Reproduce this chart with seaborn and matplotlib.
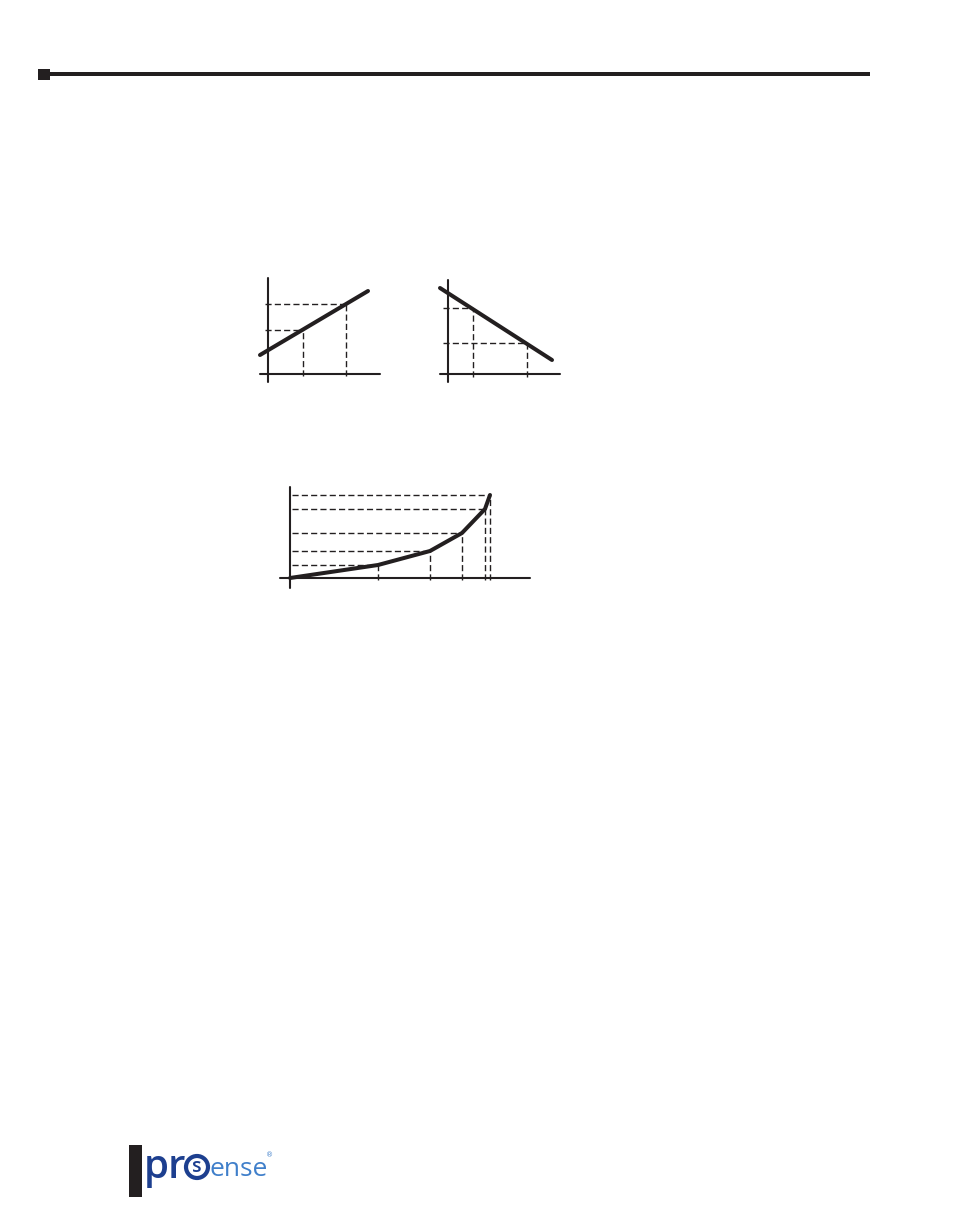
import matplotlib
matplotlib.use("Agg")
import matplotlib.pyplot as plt
import seaborn as sns
import pandas as pd
from matplotlib.patches import Rectangle, Circle

sns.set_theme(style="white")
plt.rcParams['font.family'] = ['Open Sans', 'DejaVu Sans']

# ---- data (arbitrary units; origin at axis crossing)
lin_up_x = [-8, 100]
lin_up_y = [19, 83]
lin_up_guides_x = [35, 78]
lin_up_guides_y = [44, 70]

lin_dn_x = [-8, 104]
lin_dn_y = [86, 14]
lin_dn_guides_x = [25, 79]
lin_dn_guides_y = [66, 31]

curve_x = [0, 88, 140, 172, 195, 200]
curve_y = [0, 13, 27, 45, 69, 83]

INK = '#231f20'
DARK_BLUE = '#1d3f8f'
LIGHT_BLUE = '#3f7fca'

W, H = 972, 1224
fig = plt.figure(figsize=(W / 100, H / 100), dpi=100)
fig.patch.set_facecolor('white')

# page-level axes in pixel coordinates
bg = fig.add_axes([0, 0, 1, 1], zorder=0)
bg.set_xlim(0, W)
bg.set_ylim(H, 0)
bg.axis('off')

# header rule and square
bg.add_patch(Rectangle((50, 71.5), 820, 4, color=INK, lw=0))
bg.add_patch(Rectangle((38, 68.5), 12, 11.5, color=INK, lw=0))

# logo
bg.add_patch(Rectangle((129, 1145), 13, 52, color=INK, lw=0))
bg.text(144, 1178, 'pr', color=DARK_BLUE, fontsize=29, fontweight='semibold',
        ha='left', va='baseline', family=['Open Sans', 'DejaVu Sans'])
bg.add_patch(Circle((197, 1167), 11, fill=False, ec=DARK_BLUE, lw=3.0))
bg.text(197, 1167.5, 's', color=DARK_BLUE, fontsize=14, fontweight='semibold',
        ha='center', va='center', family=['Open Sans', 'DejaVu Sans'])
bg.text(209, 1176, 'ense', color=LIGHT_BLUE, fontsize=19,
        ha='left', va='baseline', family=['Open Sans', 'DejaVu Sans'])
bg.text(270, 1155, '®', color=LIGHT_BLUE, fontsize=5,
        ha='center', va='center', family=['DejaVu Sans'])


def px_axes(x0, y0, x1, y1):
    ax = fig.add_axes([x0 / W, 1 - y1 / H, (x1 - x0) / W, (y1 - y0) / H], zorder=2)
    ax.patch.set_alpha(0)
    for s in ax.spines.values():
        s.set_visible(False)
    return ax


def clean(ax):
    ax.set_xticks([])
    ax.set_yticks([])
    ax.set_xlabel('')
    ax.set_ylabel('')
    for l in ax.lines:
        l.set_clip_on(False)


DASH = (0, (4.4, 2.3))
AX_LW = 1.5
CURVE_LW = 2.9
GUIDE_LW = 1.0


def draw_axes_lines(ax):
    ax.axhline(0, color=INK, lw=AX_LW, zorder=1)
    ax.axvline(0, color=INK, lw=AX_LW, zorder=1)


def guides(ax, gx, gy, x_start, y_start):
    for x, y in zip(gx, gy):
        ax.hlines(y, x_start, x, colors=INK, lw=GUIDE_LW, linestyles=DASH, zorder=2)
        ax.vlines(x, y_start, y, colors=INK, lw=GUIDE_LW, linestyles=DASH, zorder=2)


# chart 1: rising line
ax1 = px_axes(260, 278, 380, 382)
ax1.set_xlim(-8, 112)
ax1.set_ylim(-8, 96)
draw_axes_lines(ax1)
guides(ax1, lin_up_guides_x, lin_up_guides_y, -3, -2)
sns.lineplot(x=lin_up_x, y=lin_up_y, ax=ax1, color=INK, lw=CURVE_LW, zorder=3)
clean(ax1)

# chart 2: falling line
ax2 = px_axes(440, 280, 560, 382)
ax2.set_xlim(-8, 112)
ax2.set_ylim(-8, 94)
draw_axes_lines(ax2)
guides(ax2, lin_dn_guides_x, lin_dn_guides_y, -5, -3)
sns.lineplot(x=lin_dn_x, y=lin_dn_y, ax=ax2, color=INK, lw=CURVE_LW, zorder=3)
clean(ax2)

# chart 3: piecewise curve
ax3 = px_axes(280, 487, 530, 588)
ax3.set_xlim(-10, 240)
ax3.set_ylim(-10, 91)
draw_axes_lines(ax3)
guides(ax3, curve_x[1:], curve_y[1:], 2, -2)
df3 = pd.DataFrame({'x': curve_x, 'y': curve_y})
sns.lineplot(data=df3, x='x', y='y', ax=ax3, color=INK, lw=CURVE_LW, zorder=3,
             sort=False, solid_joinstyle='round')
clean(ax3)

fig.savefig('out.png', dpi=100, facecolor='white')
